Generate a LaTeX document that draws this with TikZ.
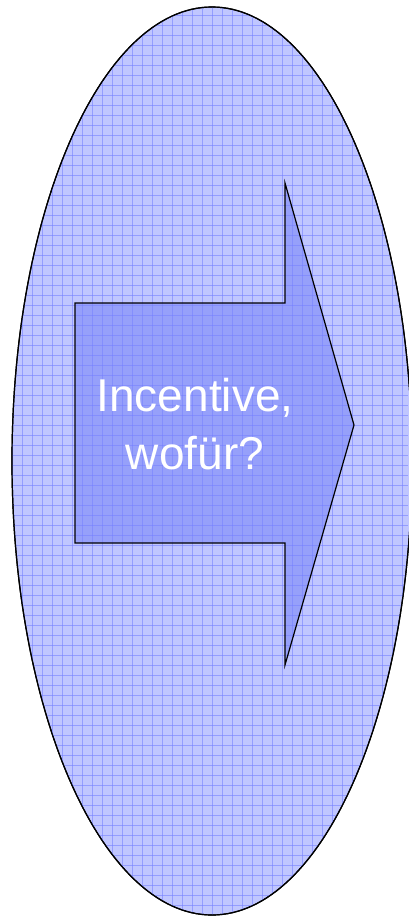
\documentclass[tikz,border=0pt]{standalone}
\usepackage{fontspec}
\setmainfont{Liberation Sans}
\usetikzlibrary{shapes.geometric}
\definecolor{ovalfill}{RGB}{192,198,255}
\definecolor{arrowfill}{RGB}{150,160,250}
\definecolor{gridline}{RGB}{120,130,255}
\tikzset{
  oval/.style={ellipse, draw=black, line width=1.2pt, fill=ovalfill,
               minimum width=400pt, minimum height=908pt, inner sep=0pt},
  bigarrow/.style={draw=black, line width=1.2pt, line join=miter},
  gridlines/.style={draw=gridline, line width=0.6pt, opacity=0.6},
  label/.style={text=white, align=center,
                font=\fontsize{46}{58}\selectfont},
}
\begin{document}
\begin{tikzpicture}[x=1pt, y=-1pt]
  \useasboundingbox (0,0) rectangle (408,918);
  % the oval
  \node[oval] (oval) at (212,461) {};
  % the arrow
  \fill[arrowfill] (75,303) -- (285,303) -- (285,183) -- (354,425)
    -- (285,665) -- (285,543) -- (75,543) -- cycle;
  % grid over everything inside the oval
  \begin{scope}
    \clip (212,461) ellipse [x radius=200, y radius=454];
    \foreach \i in {2,12,...,412}
      \draw[gridlines] (\i,0) -- (\i,918);
    \foreach \j in {5,15,...,915}
      \draw[gridlines] (0,\j) -- (408,\j);
  \end{scope}
  \draw[line width=1.2pt] (oval.center) ellipse [x radius=200, y radius=454];
  \draw[bigarrow] (75,303) -- (285,303) -- (285,183) -- (354,425)
    -- (285,665) -- (285,543) -- (75,543) -- cycle;
  \node[label] (txt) at (195,424) {Incentive,\\wofür?};
\end{tikzpicture}
\end{document}
